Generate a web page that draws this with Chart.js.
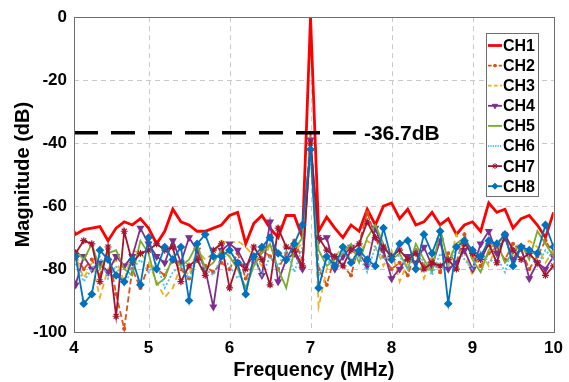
<!DOCTYPE html>
<html>
<head>
<meta charset="utf-8">
<script src="https://cdn.jsdelivr.net/npm/chart.js@4.4.0/dist/chart.umd.min.js"></script>
<style>
  html, body { margin: 0; padding: 0; background: #fff; }
  #wrap { width: 569px; height: 382px; }
</style>
</head>
<body>
<div id="wrap"><canvas id="crosstalk-chart" width="569" height="382"></canvas></div>
<script>
// Crosstalk spectrum, 8 channels, 0.1 MHz bins
const freq = [4.0, 4.1, 4.2, 4.3, 4.4, 4.5, 4.6, 4.7, 4.8, 4.9, 5.0,
  5.1, 5.2, 5.3, 5.4, 5.5, 5.6, 5.7, 5.8, 5.9, 6.0,
  6.1, 6.2, 6.3, 6.4, 6.5, 6.6, 6.7, 6.8, 6.9, 7.0,
  7.1, 7.2, 7.3, 7.4, 7.5, 7.6, 7.7, 7.8, 7.9, 8.0,
  8.1, 8.2, 8.3, 8.4, 8.5, 8.6, 8.7, 8.8, 8.9, 9.0,
  9.1, 9.2, 9.3, 9.4, 9.5, 9.6, 9.7, 9.8, 9.9, 10.0];

const ch1 = [-64, -69, -67.5, -67, -66.5, -71, -67, -65, -66, -64, -67,
  -72, -68, -61, -65, -66, -68, -68, -67, -66, -63,
  -62, -72, -65.5, -63, -67, -70, -63, -63, -70, 0,
  -68, -63.5, -67, -70, -66, -68, -61, -66, -60, -59,
  -64, -61, -66, -65, -62, -66, -64, -69, -66, -65,
  -68, -59, -62, -61, -67, -64, -63, -66, -70, -62];
const ch2 = [-78, -76, -80, -77, -82, -74, -88, -99, -80, -86, -79,
  -80, -82, -77, -80, -83, -76, -79, -81, -78, -80,
  -75, -83, -78, -74, -76, -80, -75, -71, -77, -36.7,
  -80, -85, -76, -79, -82, -72, -62, -70, -76, -80,
  -78, -82, -74, -79, -77, -81, -75, -78, -69, -76,
  -79, -75, -73, -77, -72, -74, -80, -76, -71, -75];
const ch3 = [-80, -76, -83, -78, -89, -80, -77, -84, -74, -75, -78,
  -84, -89, -86, -79, -82, -74, -77, -75, -71, -72,
  -71, -73, -76, -79, -72, -74, -78, -74, -72, -38,
  -92, -80, -76, -73, -77, -75, -71, -73, -79, -74,
  -84, -78, -75, -83, -76, -72, -80, -69, -75, -82,
  -75, -79, -72, -70, -76, -74, -71, -73, -78, -74];
const ch4 = [-75, -85, -76, -80, -78, -81, -76, -79, -76, -67, -72,
  -76, -78, -71, -78, -70, -74, -80, -92, -74, -72,
  -74, -79, -76, -82, -65, -84, -77, -75, -80, -39,
  -71, -70, -80, -76, -73, -75, -79, -67, -74, -83,
  -80, -76, -78, -73, -79, -71, -80, -78, -74, -80,
  -72, -68, -75, -70, -77, -73, -83, -78, -80, -76];
const ch5 = [-78, -74, -77, -72, -80, -75, -74, -80, -82, -71, -75,
  -85, -83, -76, -79, -77, -72, -80, -78, -74, -76,
  -80, -86, -79, -75, -72, -80, -86, -74, -70, -41,
  -74, -79, -77, -75, -72, -78, -70, -66, -72, -77,
  -75, -80, -72, -77, -81, -67, -78, -72, -70, -77,
  -81, -74, -71, -78, -75, -72, -77, -68, -72, -76];
const ch6 = [-82, -78, -84, -80, -76, -83, -79, -85, -80, -77, -81,
  -78, -86, -81, -79, -83, -77, -80, -82, -76, -79,
  -83, -79, -77, -82, -76, -79, -74, -81, -73, -43,
  -82, -77, -80, -74, -78, -76, -81, -73, -77, -75,
  -76, -80, -74, -78, -82, -75, -79, -73, -77, -80,
  -74, -78, -76, -81, -73, -77, -75, -79, -74, -77];
const ch7 = [-79, -75, -71, -72, -84, -73, -95, -68, -78, -75, -74,
  -72, -74, -73, -84, -79, -77, -82, -74, -72, -86,
  -78, -80, -73, -77, -85, -67, -73, -74, -79, -40,
  -70, -74, -76, -79, -74, -72, -65, -70, -73, -76,
  -74, -77, -75, -80, -78, -79, -77, -80, -72, -75,
  -77, -72, -78, -69, -74, -77, -75, -78, -82, -79];
const ch8 = [-73, -76, -91, -88, -74, -77, -82, -84, -77, -85, -70,
  -80, -73, -77, -73, -90, -72, -69, -76, -76, -74,
  -78, -88, -76, -73, -70, -75, -77, -72, -66, -42,
  -86, -76, -79, -73, -78, -74, -77, -79, -67, -77,
  -72, -71, -80, -69, -75, -68, -91, -73, -71, -74,
  -76, -71, -72, -69, -79, -73, -74, -75, -66, -73];

const channelNames = ['CH1', 'CH2', 'CH3', 'CH4', 'CH5', 'CH6', 'CH7', 'CH8'];
const xTicks = [4, 5, 6, 7, 8, 9, 10];
const yTicks = [0, -20, -40, -60, -80, -100];
const xRange = [4.08, 10];
const yRange = [-100, 0];

// worst-case crosstalk marker
const markerLevel = -36.7;
const markerSpan = [4.08, 7.56];
const markerText = '-36.7dB';

const FONT = "'Liberation Sans', Arial, Helvetica, sans-serif";

const toPoints = (vals) => freq.map((f, i) => ({ x: f, y: vals[i] }));

// MATLAB-like line specs
const styles = [
  { color: '#FF0000', width: 2.8, dash: [], point: false },
  { color: '#D95319', width: 1.8, dash: [6, 3], point: 'circle', r: 1.5 },
  { color: '#EDB120', width: 1.8, dash: [6, 4], point: false },
  { color: '#7E2F8E', width: 1.8, dash: [], point: 'triangle', r: 3.5, rot: 180 },
  { color: '#77AC30', width: 1.8, dash: [], point: false },
  { color: '#4DBEEE', width: 1.8, dash: [2, 2], point: false },
  { color: '#A2142F', width: 1.8, dash: [], point: 'star', r: 3.5 },
  { color: '#0072BD', width: 1.8, dash: [], point: 'rectRot', r: 3.5 },
];

const series = [ch1, ch2, ch3, ch4, ch5, ch6, ch7, ch8];

const datasets = series.map((vals, i) => {
  const s = styles[i];
  return {
    label: channelNames[i],
    data: toPoints(vals),
    borderColor: s.color,
    backgroundColor: s.color,
    borderWidth: s.width,
    borderDash: s.dash,
    pointStyle: s.point || 'circle',
    pointRadius: s.point ? s.r : 0,
    pointRotation: s.rot || 0,
    pointBorderWidth: 1.2,
    tension: 0,
    order: 8 - i,
  };
});

// black dashed reference line
datasets.push({
  label: 'marker',
  data: markerSpan.map(x => ({ x: x, y: markerLevel })),
  borderColor: '#000',
  borderWidth: 3.5,
  borderDash: [24, 13],
  pointRadius: 0,
  order: 0,
});

// dashed MATLAB grid, drawn under the data
const dashedGrid = {
  id: 'dashedGrid',
  beforeDatasetsDraw(c) {
    const ctx = c.ctx;
    const a = c.chartArea;
    const xs = c.scales.x, ys = c.scales.y;
    ctx.save();
    ctx.strokeStyle = '#c9c9c9';
    ctx.lineWidth = 1;
    ctx.setLineDash([5, 4]);
    ctx.beginPath();
    xTicks.forEach(v => {
      if (v <= xs.min || v >= xs.max) return;
      const px = Math.round(xs.getPixelForValue(v)) + 0.5;
      ctx.moveTo(px, a.top);
      ctx.lineTo(px, a.bottom);
    });
    yTicks.forEach(v => {
      if (v <= ys.min || v >= ys.max) return;
      const py = Math.round(ys.getPixelForValue(v)) + 0.5;
      ctx.moveTo(a.left, py);
      ctx.lineTo(a.right, py);
    });
    ctx.stroke();
    ctx.restore();
  },
};

// box around plot area + in-plot legend + marker label
const boxAndLegend = {
  id: 'boxAndLegend',
  afterDatasetsDraw(c) {
    const ctx = c.ctx;
    const a = c.chartArea;
    ctx.save();
    ctx.strokeStyle = '#6e6e6e';
    ctx.lineWidth = 1;
    ctx.strokeRect(Math.round(a.left) + 0.5, Math.round(a.top) + 0.5,
      Math.round(a.right - a.left), Math.round(a.bottom - a.top));

    // label for the dashed line
    const xs = c.scales.x, ys = c.scales.y;
    ctx.fillStyle = '#000';
    ctx.font = 'bold 21px ' + FONT;
    ctx.textBaseline = 'middle';
    ctx.textAlign = 'left';
    ctx.fillText(markerText, xs.getPixelForValue(markerSpan[1]) + 8, ys.getPixelForValue(markerLevel) + 1);
    ctx.restore();
  },
  afterDraw(c) {
    const ctx = c.ctx;
    const bx = 486.5, by = 33.5, bw = 52, bh = 163;
    ctx.save();
    ctx.fillStyle = '#fff';
    ctx.fillRect(bx, by, bw, bh);
    ctx.strokeStyle = '#6e6e6e';
    ctx.lineWidth = 1;
    ctx.strokeRect(bx, by, bw, bh);
    ctx.font = 'bold 16px ' + FONT;
    ctx.textBaseline = 'middle';
    channelNames.forEach((name, i) => {
      const s = styles[i];
      const y = 45.5 + i * 20.1;
      ctx.strokeStyle = s.color;
      ctx.lineWidth = s.width;
      ctx.setLineDash(s.dash.map(d => d * 0.6));
      ctx.beginPath();
      ctx.moveTo(488, y);
      ctx.lineTo(502, y);
      ctx.stroke();
      ctx.setLineDash([]);
      if (s.point) {
        ctx.fillStyle = s.color;
        ctx.lineWidth = 1;
        Chart.helpers.drawPoint(ctx, {
          pointStyle: s.point, radius: s.r * 0.85, rotation: s.rot || 0, borderWidth: 1,
        }, 495, y);
      }
      ctx.fillStyle = '#000';
      ctx.fillText(name, 503, y + 1);
    });
    ctx.restore();
  },
};

const tickFont = { family: FONT, size: 17, weight: 'bold' };
const titleFont = { family: FONT, size: 20, weight: 'bold' };

new Chart(document.getElementById('crosstalk-chart'), {
  type: 'line',
  data: { datasets: datasets },
  options: {
    responsive: false,
    animation: false,
    devicePixelRatio: 1,
    layout: { padding: { top: 17, right: 12, left: 0, bottom: 0 } },
    plugins: {
      legend: { display: false },
      tooltip: { enabled: false },
    },
    scales: {
      x: {
        type: 'linear',
        min: xRange[0],
        max: xRange[1],
        afterBuildTicks: (scale) => {
          scale.ticks = xTicks.map(v => ({ value: Math.max(v, scale.min) }));
        },
        afterFit: (scale) => { scale.height = 50; },
        ticks: {
          font: tickFont,
          color: '#000',
          padding: 6,
          maxRotation: 0,
          autoSkip: false,
          callback: (v) => String(Math.round(v)),
        },
        grid: { display: false, drawTicks: false },
        border: { display: false },
        title: {
          display: true,
          text: 'Frequency (MHz)',
          font: titleFont,
          color: '#000',
          padding: { top: 0, bottom: 0 },
        },
      },
      y: {
        min: yRange[0],
        max: yRange[1],
        afterBuildTicks: (scale) => {
          scale.ticks = yTicks.map(v => ({ value: v }));
        },
        afterFit: (scale) => { scale.width = 74; },
        ticks: {
          font: tickFont,
          color: '#000',
          padding: 7,
        },
        grid: { display: false, drawTicks: false },
        border: { display: false },
        title: {
          display: true,
          text: 'Magnitude (dB)',
          font: titleFont,
          color: '#000',
          padding: { top: 11, bottom: 0 },
        },
      },
    },
  },
  plugins: [dashedGrid, boxAndLegend],
});
</script>
</body>
</html>
